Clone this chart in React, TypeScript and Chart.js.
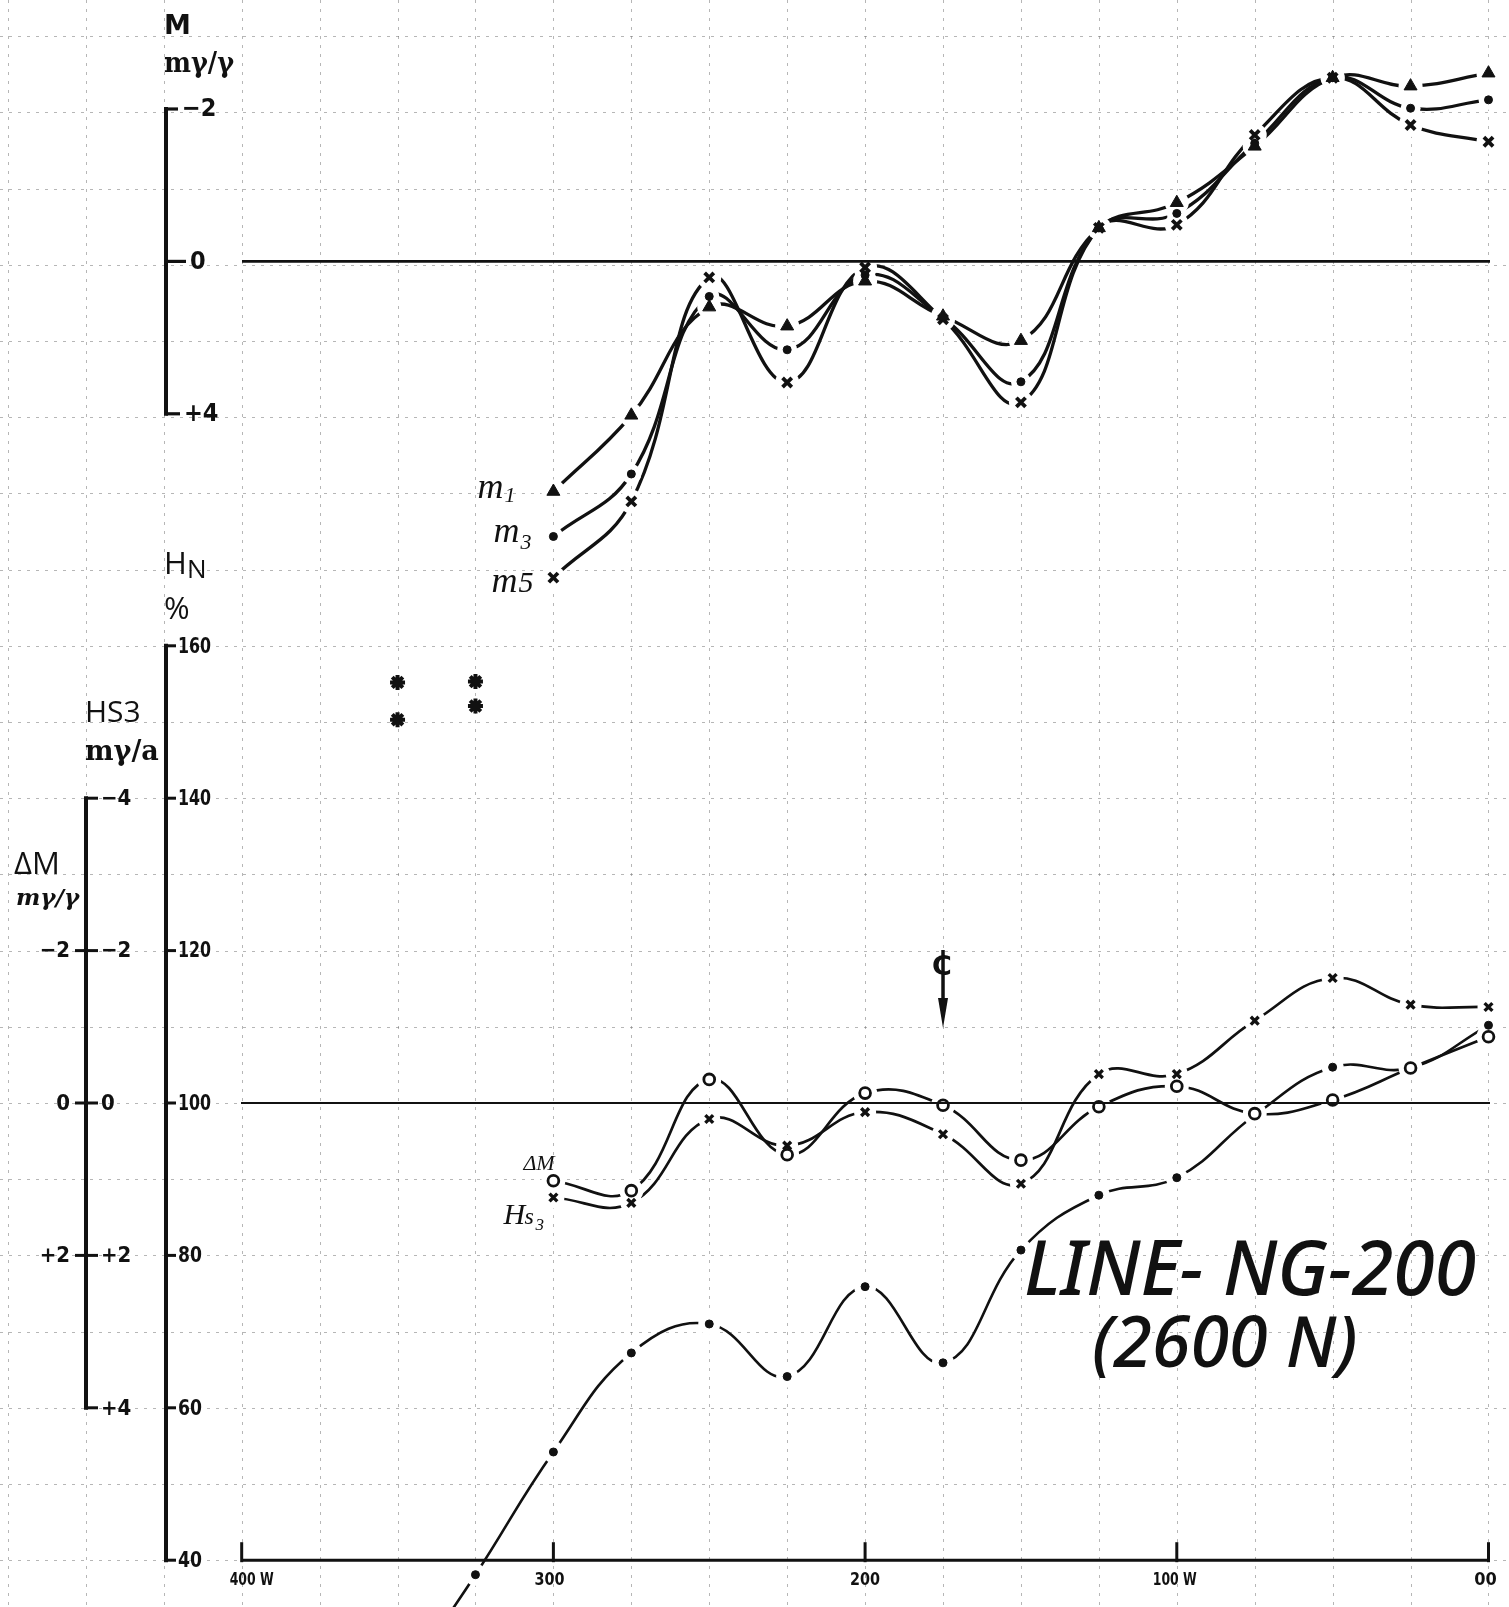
import { useEffect, useRef } from "react";
import { Chart, registerables } from "chart.js";

Chart.register(...registerables);

// ---------- data ----------
const X_POS = [300, 275, 250, 225, 200, 175, 150, 125, 100, 75, 50, 25, 0];

// top panel, M (mγ/γ), axis reversed (−2 at top)
const M1 = [3.02, 2.02, 0.6, 0.85, 0.26, 0.72, 1.04, -0.44, -0.77, -1.51, -2.41, -2.3, -2.47];
const M3 = [3.61, 2.79, 0.46, 1.16, 0.18, 0.74, 1.58, -0.44, -0.63, -1.55, -2.41, -2.01, -2.12];
const M5 = [4.15, 3.15, 0.21, 1.59, 0.08, 0.76, 1.85, -0.44, -0.48, -1.66, -2.41, -1.79, -1.57];

// bottom panel, ΔM (mγ/γ) and Hs3 (mγ/a), axis reversed (−4 at top)
const DELTA_M = [1.02, 1.15, -0.31, 0.68, -0.13, 0.03, 0.75, 0.05, -0.22, 0.14, -0.04, -0.46, -0.87];
const HS3 = [1.24, 1.31, 0.21, 0.56, 0.12, 0.41, 1.06, -0.38, -0.38, -1.08, -1.64, -1.29, -1.26];

// bottom panel, HN %
const HN_X = [350, 325, 300, 275, 250, 225, 200, 175, 150, 125, 100, 75, 50, 25, 0];
const HN = [23, 38.1, 54.2, 67.2, 71.0, 64.1, 75.9, 65.9, 80.7, 87.9, 90.2, 98.4, 104.7, 104.6, 110.2];

// isolated star marks (HN %)
const STAR_X = [350, 350, 325, 325];
const STAR_HN = [155.2, 150.3, 155.3, 152.1];

// axes
const X_TICKS = [400, 300, 200, 100, 0];
const X_TICK_LABELS = ["400 W", "300", "200", "100 W", "00"];
const M_TICKS = [-2, 0, 2];
const M_TICK_LABELS = ["\u22122", "0", "+4"];
const HN_TICKS = [160, 140, 120, 100, 80, 60, 40];
const HS3_TICKS = [-4, -2, 0, 2, 4];
const HS3_TICK_LABELS = ["\u22124", "\u22122", "0", "+2", "+4"];
const DM_TICKS = [-2, 0, 2];
const DM_TICK_LABELS = ["\u22122", "0", "+2"];
const CENTER_X = 175;

const INK = "#111";
const GRID = "rgba(110,110,110,0.5)";
const W = 1509;
const H = 1607;

type P = { x: number; y: number };
const pts = (xs: number[], ys: number[]): P[] => xs.map((x, i) => ({ x, y: ys[i] }));

function line(ctx: CanvasRenderingContext2D, x1: number, y1: number, x2: number, y2: number) {
  ctx.beginPath();
  ctx.moveTo(x1, y1);
  ctx.lineTo(x2, y2);
  ctx.stroke();
}

function txt(
  ctx: CanvasRenderingContext2D,
  s: string,
  x: number,
  y: number,
  font: string,
  align: CanvasTextAlign = "left",
  baseline: CanvasTextBaseline = "alphabetic",
  maxW?: number
) {
  ctx.font = font;
  ctx.textAlign = align;
  ctx.textBaseline = baseline;
  if (maxW) ctx.fillText(s, x, y, maxW);
  else ctx.fillText(s, x, y);
}

const NUM = 'bold 22px "DejaVu Sans Condensed", "DejaVu Sans", sans-serif';
const NUM_BIG = 'bold 25px "DejaVu Sans Condensed", "DejaVu Sans", sans-serif';

// graph paper under the curves
const paperPlugin = {
  id: "paper",
  beforeDatasetsDraw(chart: any) {
    const { ctx, chartArea: a } = chart;
    const sx = chart.scales.x;
    const sh = chart.scales.yHN;
    ctx.save();
    ctx.fillStyle = "#fff";
    ctx.fillRect(a.left, a.top, a.right - a.left, a.bottom - a.top);
    ctx.strokeStyle = GRID;
    ctx.lineWidth = 1;
    ctx.setLineDash([3, 6]);
    for (let v = 0; v <= 475; v += 25) {
      const p = Math.round(sx.getPixelForValue(v)) + 0.5;
      line(ctx, p, a.top, p, a.bottom);
    }
    for (let v = 40; v <= 240; v += 10) {
      const p = Math.round(sh.getPixelForValue(v)) + 0.5;
      line(ctx, a.left, p, a.right, p);
    }
    ctx.restore();
  },
};

// white gaps round the marks on the overlay chart (the hand-drawn lines stop short of each mark)
const haloPlugin = {
  id: "halo",
  beforeDatasetsDraw(chart: any) {
    const ctx = chart.ctx;
    ctx.save();
    ctx.fillStyle = "#fff";
    chart.data.datasets.forEach((d: any, i: number) => {
      if (!d.halo) return;
      chart.getDatasetMeta(i).data.forEach((el: any) => {
        ctx.beginPath();
        ctx.arc(el.x, el.y, d.halo, 0, Math.PI * 2);
        ctx.fill();
      });
    });
    ctx.restore();
  },
};

const inkPlugin = {
  id: "ink",
  afterDatasetsDraw(chart: any) {
    const { ctx } = chart;
    const sx = chart.scales.x;
    const sM = chart.scales.yM;
    const sH = chart.scales.yHN;
    const sD = chart.scales.yD;
    ctx.save();
    ctx.strokeStyle = INK;
    ctx.fillStyle = INK;
    ctx.lineCap = "butt";

    // ---- zero lines ----
    ctx.lineWidth = 2.6;
    line(ctx, 242, sM.getPixelForValue(0), 1490, sM.getPixelForValue(0));
    ctx.lineWidth = 2;
    line(ctx, 241, sH.getPixelForValue(100), 1490, sH.getPixelForValue(100));

    // ---- M axis (top) ----
    const AXM = 166;
    ctx.lineWidth = 4;
    line(ctx, AXM, sM.getPixelForValue(M_TICKS[0]) - 2, AXM, sM.getPixelForValue(M_TICKS[M_TICKS.length - 1]) + 2);
    ctx.lineWidth = 3.2;
    const mStub = [12, 20, 14];
    const mLab = [182, 190, 184];
    M_TICKS.forEach((v, i) => {
      const y = sM.getPixelForValue(v);
      line(ctx, AXM, y, AXM + mStub[i], y);
      txt(ctx, M_TICK_LABELS[i], mLab[i], y + 1, NUM_BIG, "left", "middle");
    });
    txt(ctx, "M", 164, 34, 'bold 27px "DejaVu Sans", sans-serif');
    txt(ctx, "m\u03b3/\u03b3", 164, 72, 'bold 27px "DejaVu Serif", serif', "left", "alphabetic", 70);

    // ---- HN axis ----
    const AXH = 166;
    ctx.lineWidth = 4;
    line(ctx, AXH, sH.getPixelForValue(HN_TICKS[0]) - 2, AXH, sH.getPixelForValue(HN_TICKS[HN_TICKS.length - 1]) + 2);
    ctx.lineWidth = 3;
    HN_TICKS.forEach((v) => {
      const y = sH.getPixelForValue(v);
      line(ctx, AXH, y, AXH + 10, y);
      const s = String(v);
      txt(ctx, s, AXH + 12, y + 1, NUM, "left", "middle", s.length === 3 ? 33 : 24);
    });
    txt(ctx, "H", 164, 574, '31px "Open Sans", sans-serif');
    txt(ctx, "N", 187, 578, '26px "Open Sans", sans-serif');
    txt(ctx, "%", 164, 619, '31px "Open Sans", sans-serif');

    // ---- Hs3 / ΔM axis ----
    const AXS = 86;
    ctx.lineWidth = 4;
    line(ctx, AXS, sD.getPixelForValue(HS3_TICKS[0]) - 2, AXS, sD.getPixelForValue(HS3_TICKS[HS3_TICKS.length - 1]) + 2);
    ctx.lineWidth = 3;
    HS3_TICKS.forEach((v, i) => {
      const y = sD.getPixelForValue(v);
      const isEnd = i === 0 || i === HS3_TICKS.length - 1;
      line(ctx, isEnd ? AXS : AXS - 11, y, AXS + 12, y);
      txt(ctx, HS3_TICK_LABELS[i], AXS + 15, y + 1, NUM, "left", "middle");
    });
    DM_TICKS.forEach((v, i) => {
      const y = sD.getPixelForValue(v);
      txt(ctx, DM_TICK_LABELS[i], 70, y + 1, NUM, "right", "middle");
    });
    txt(ctx, "HS3", 85, 722, '30px "Open Sans", sans-serif', "left", "alphabetic", 60);
    txt(ctx, "m\u03b3/a", 85, 760, 'bold 27px "DejaVu Serif", serif', "left", "alphabetic", 74);
    txt(ctx, "\u0394M", 14, 874, '31px "Open Sans", sans-serif', "left", "alphabetic", 62);
    txt(ctx, "m\u03b3/\u03b3", 16, 905, 'italic bold 23px "DejaVu Serif", serif', "left", "alphabetic", 74);

    // ---- x axis ----
    const yAx = sH.getPixelForValue(40);
    ctx.lineWidth = 3;
    line(ctx, sx.getPixelForValue(X_TICKS[0]), yAx, sx.getPixelForValue(X_TICKS[X_TICKS.length - 1]) + 1, yAx);
    const labOff = [-12, -4, 0, -24, -3];
    X_TICKS.forEach((v, i) => {
      const p = sx.getPixelForValue(v);
      line(ctx, p, yAx - 18, p, yAx + 2);
      const s = X_TICK_LABELS[i];
      txt(ctx, s, p + labOff[i], yAx + 20, 'bold 18px "DejaVu Sans Condensed", "DejaVu Sans", sans-serif', i === 0 || i === 3 ? "left" : "center", "middle", s.length > 3 ? 44 : 30);
    });

    // ---- series labels ----
    const p300 = sx.getPixelForValue(X_POS[0]);
    const ital = 'italic 36px "Liberation Serif", serif';
    const sub = 'italic 22px "Liberation Serif", serif';
    const yl1 = sM.getPixelForValue(M1[0]);
    const yl3 = sM.getPixelForValue(M3[0]);
    const yl5 = sM.getPixelForValue(M5[0]);
    txt(ctx, "m", p300 - 76, yl1 + 6, ital);
    txt(ctx, "1", p300 - 49, yl1 + 10, sub);
    txt(ctx, "m", p300 - 60, yl3 + 6, ital);
    txt(ctx, "3", p300 - 33, yl3 + 13, sub);
    txt(ctx, "m", p300 - 62, yl5 + 14, ital);
    txt(ctx, "5", p300 - 35, yl5 + 14, 'italic 30px "Liberation Serif", serif');

    const yd = sD.getPixelForValue(DELTA_M[0]);
    const yh = sD.getPixelForValue(HS3[0]);
    txt(ctx, "\u0394M", p300 - 30, yd - 11, 'italic 22px "Liberation Serif", serif', "left", "alphabetic", 46);
    txt(ctx, "H", p300 - 50, yh + 27, 'italic 30px "Liberation Serif", serif');
    txt(ctx, "s", p300 - 29, yh + 27, 'italic 24px "Liberation Serif", serif');
    txt(ctx, "3", p300 - 18, yh + 33, 'italic 17px "Liberation Serif", serif');

    // ---- centre-line mark ----
    const cx = sx.getPixelForValue(CENTER_X);
    ctx.lineWidth = 3.5;
    line(ctx, cx, 950, cx, 1002);
    txt(ctx, "C", cx - 1, 968, 'bold 27px "DejaVu Sans", sans-serif', "center", "middle");
    ctx.beginPath();
    ctx.moveTo(cx - 5, 998);
    ctx.lineTo(cx + 5, 998);
    ctx.lineTo(cx, 1028);
    ctx.closePath();
    ctx.fill();

    // ---- title ----
    txt(ctx, "LINE- NG-200", 1024, 1295, 'italic 500 76px "Noto Sans", "Open Sans", sans-serif', "left", "alphabetic", 452);
    txt(ctx, "(2600 N)", 1092, 1367, 'italic 500 70px "Noto Sans", "Open Sans", sans-serif', "left", "alphabetic", 286);

    ctx.restore();
  },
};

const SCALES = {
  x: { type: "linear", reverse: true, min: -6.58, max: 477.54, display: false },
  yM: { type: "linear", reverse: true, min: -3.4304, max: 17.6588, display: false },
  yHN: { type: "linear", min: 33.858, max: 244.751, display: false },
  yD: { type: "linear", reverse: true, min: -14.4751, max: 6.6142, display: false },
};

const baseOptions = () => ({
  animation: false,
  responsive: false,
  devicePixelRatio: 1,
  events: [],
  layout: { padding: 0, autoPadding: false },
  plugins: {
    legend: { display: false },
    tooltip: { enabled: false },
    title: { display: false },
  },
  scales: JSON.parse(JSON.stringify(SCALES)),
});

export default function App() {
  const lineRef = useRef<HTMLCanvasElement>(null);
  const markRef = useRef<HTMLCanvasElement>(null);

  useEffect(() => {
    const c1 = lineRef.current;
    const c2 = markRef.current;
    if (!c1 || !c2) return;

    const lineDs = (data: P[], yAxisID: string, width: number) => ({
      data,
      yAxisID,
      borderColor: INK,
      borderWidth: width,
      borderCapStyle: "round",
      pointRadius: 0,
      tension: 0.42,
      fill: false,
    });
    const markDs = (data: P[], yAxisID: string, style: string, r: number, bw: number, bg: string, halo: number) => ({
      data,
      yAxisID,
      showLine: false,
      pointStyle: style,
      pointRadius: r,
      pointBorderWidth: bw,
      pointBorderColor: INK,
      pointBackgroundColor: bg,
      halo,
    });

    const m1 = pts(X_POS, M1);
    const m3 = pts(X_POS, M3);
    const m5 = pts(X_POS, M5);
    const dm = pts(X_POS, DELTA_M);
    const hs = pts(X_POS, HS3);
    const hn = pts(HN_X, HN);
    const st = pts(STAR_X, STAR_HN);

    // lower layer: paper grid + curves
    const lines = new Chart(c1, {
      type: "line",
      data: {
        datasets: [
          lineDs(m1, "yM", 3.3),
          lineDs(m3, "yM", 3.3),
          lineDs(m5, "yM", 3.3),
          lineDs(dm, "yD", 2.7),
          lineDs(hs, "yD", 2.7),
          lineDs(hn, "yHN", 2.6),
        ] as any,
      },
      options: baseOptions() as any,
      plugins: [paperPlugin],
    });

    // upper layer: gaps + marks + axes and lettering
    const marks = new Chart(c2, {
      type: "line",
      data: {
        datasets: [
          markDs(m1, "yM", "triangle", 7.5, 1, INK, 12),
          markDs(m3, "yM", "circle", 4, 1, INK, 10),
          markDs(m5, "yM", "crossRot", 6.5, 3.8, INK, 12),
          markDs(dm, "yD", "circle", 5.4, 2.8, "#fff", 12),
          markDs(hs, "yD", "crossRot", 5.5, 3.4, INK, 11),
          markDs(hn, "yHN", "circle", 4, 1, INK, 11),
          markDs(st, "yHN", "star", 7.5, 4, INK, 0),
        ] as any,
      },
      options: baseOptions() as any,
      plugins: [haloPlugin, inkPlugin],
    });

    return () => {
      lines.destroy();
      marks.destroy();
    };
  }, []);

  return (
    <div style={{ position: "absolute", left: 0, top: 0, width: W, height: H, background: "#fff", overflow: "hidden" }}>
      <canvas ref={lineRef} width={W} height={H} style={{ display: "block", position: "absolute", left: 0, top: 0 }} />
      <canvas ref={markRef} width={W} height={H} style={{ display: "block", position: "absolute", left: 0, top: 0 }} />
    </div>
  );
}
